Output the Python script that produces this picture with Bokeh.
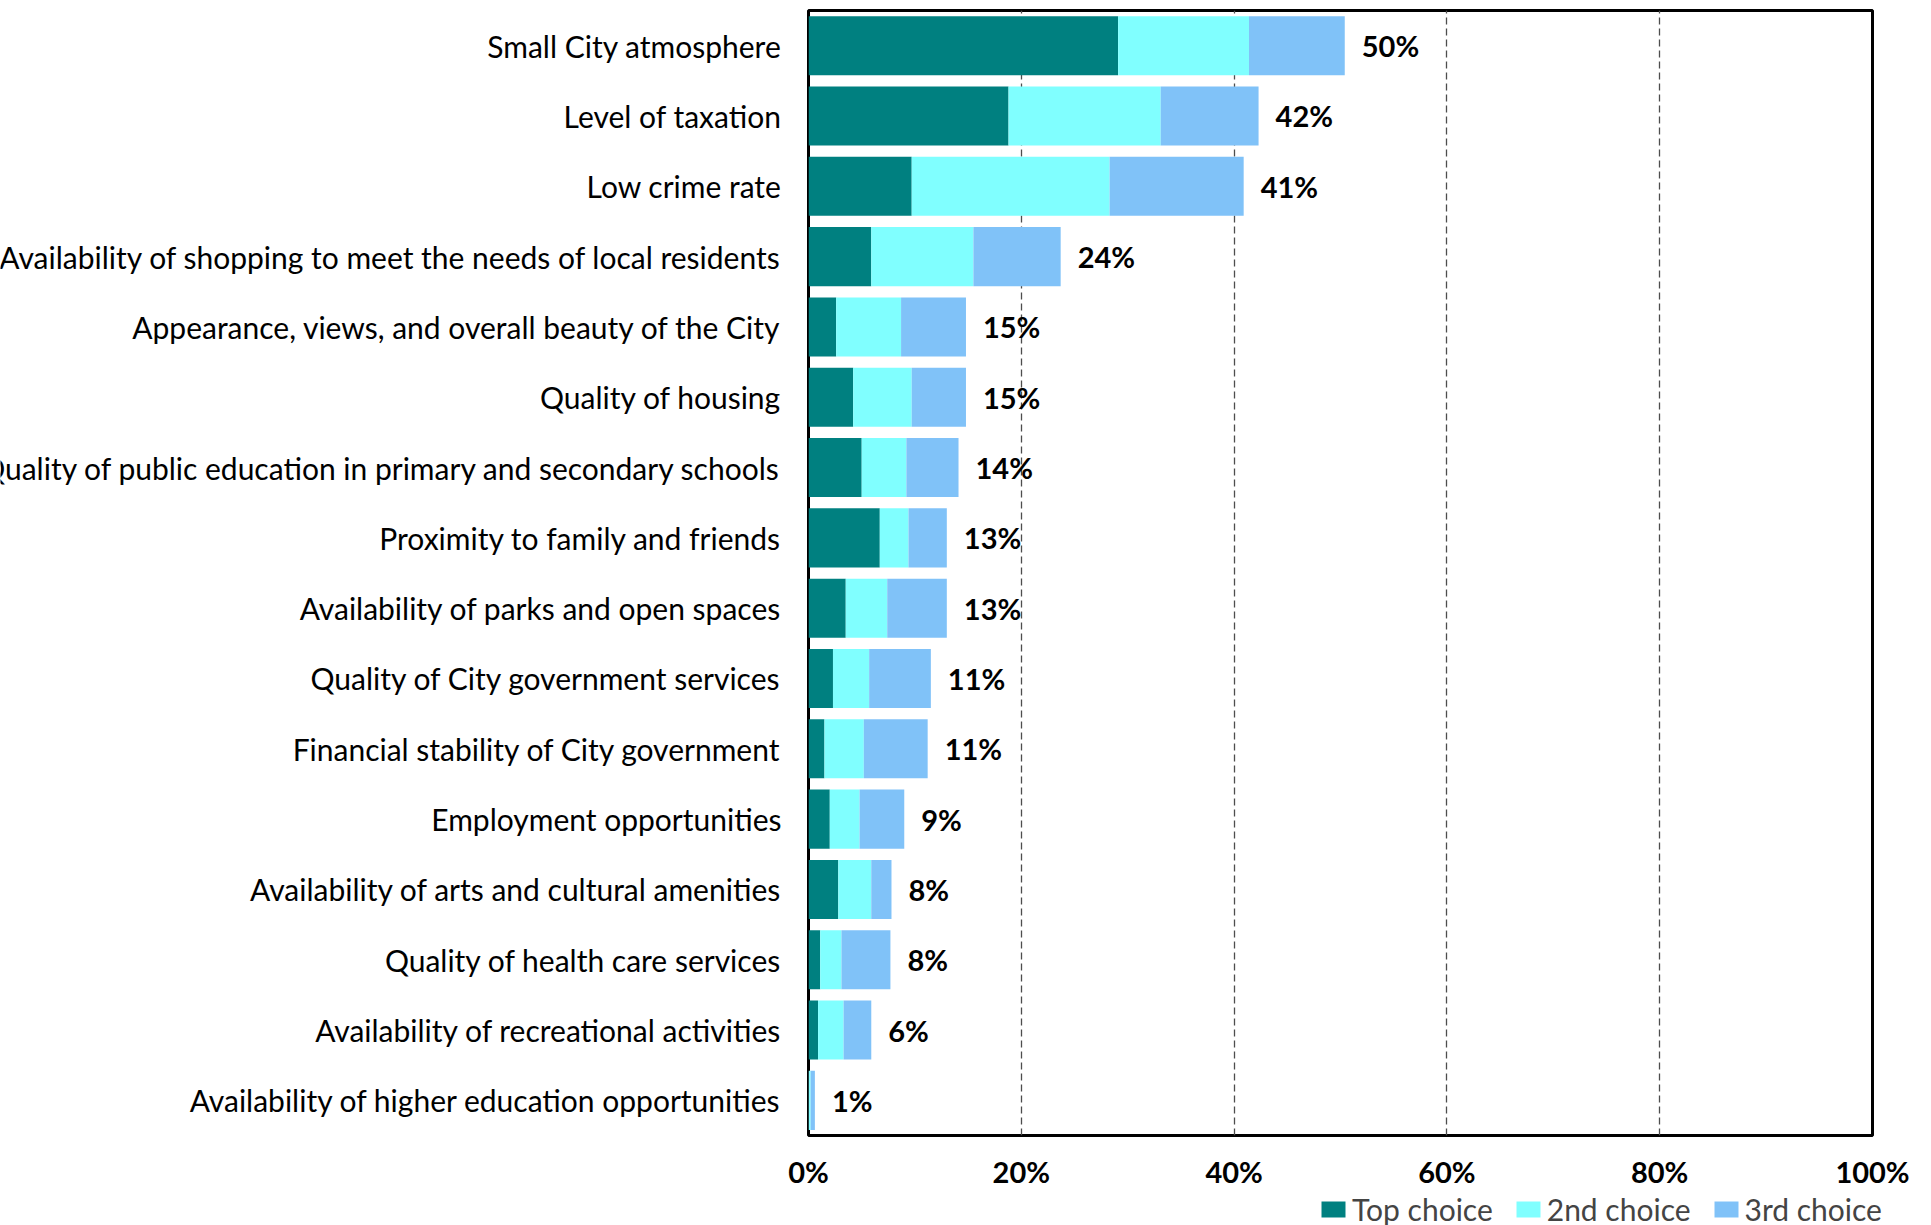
from bokeh.plotting import figure
from bokeh.layouts import row, column
from bokeh.models import (ColumnDataSource, Range1d, FactorRange, Legend, LegendItem,
                          FixedTicker, PrintfTickFormatter, LabelSet)
from bokeh.core.properties import value
from bokeh.embed import file_html
from bokeh.resources import INLINE

categories = [
    "Small City atmosphere",
    "Level of taxation",
    "Low crime rate",
    "Availability of shopping to meet the needs of local residents",
    "Appearance, views, and overall beauty of the City",
    "Quality of housing",
    "Quality of public education in primary and secondary schools",
    "Proximity to family and friends",
    "Availability of parks and open spaces",
    "Quality of City government services",
    "Financial stability of City government",
    "Employment opportunities",
    "Availability of arts and cultural amenities",
    "Quality of health care services",
    "Availability of recreational activities",
    "Availability of higher education opportunities",
]
top_choice = [29.1, 18.8, 9.7, 5.9, 2.6, 4.2, 5.0, 6.7, 3.5, 2.3, 1.5, 2.0, 2.8, 1.1, 0.9, 0.0]
second_choice = [12.3, 14.3, 18.6, 9.6, 6.1, 5.5, 4.2, 2.7, 3.9, 3.4, 3.7, 2.8, 3.1, 2.0, 2.4, 0.2]
third_choice = [9.0, 9.2, 12.6, 8.2, 6.1, 5.1, 4.9, 3.6, 5.6, 5.8, 6.0, 4.2, 1.9, 4.6, 2.6, 0.4]
total_labels = ["50%", "42%", "41%", "24%", "15%", "15%", "14%", "13%", "13%",
                "11%", "11%", "9%", "8%", "8%", "6%", "1%"]
series_names = ["Top choice", "2nd choice", "3rd choice"]
series_colors = ["#008080", "#80FFFF", "#80C2F8"]
x_ticks = [0, 20, 40, 60, 80, 100]
grid_ticks = [20, 40, 60, 80]

totals = [a + b + c for a, b, c in zip(top_choice, second_choice, third_choice)]
source = ColumnDataSource(dict(cat=categories, top=top_choice, second=second_choice,
                               third=third_choice, total=totals, label=total_labels,
                               one=[1] * len(categories)))

FONT = "Lato"
FRAME_H = 1125
y_range = FactorRange(*reversed(categories), range_padding=0)


def blank(fig):
    fig.axis.visible = False
    fig.grid.visible = False
    fig.outline_line_color = None
    fig.background_fill_color = "white"
    fig.border_fill_color = "white"


# ---- left figure: category labels ----
lab = figure(frame_width=784, frame_height=FRAME_H, y_range=y_range, x_range=Range1d(0, 1),
             output_backend="svg", toolbar_location=None,
             min_border_left=0, min_border_right=0, min_border_top=10, min_border_bottom=0)
blank(lab)
lab.text(x="one", y="cat", text="cat", source=source, x_offset=-3,
         text_align="right", text_baseline="middle",
         text_font=value(FONT), text_font_size="30px", text_color="black")

# ---- main figure ----
p = figure(frame_width=1064, frame_height=FRAME_H, y_range=y_range, x_range=Range1d(0, 100),
           output_backend="svg", toolbar_location=None,
           min_border_left=24, min_border_right=55, min_border_top=10, min_border_bottom=0)
p.background_fill_color = "white"
p.border_fill_color = "white"
p.outline_line_color = "black"
p.outline_line_width = 3

renderers = p.hbar_stack(["top", "second", "third"], y="cat", height=0.84,
                         color=series_colors, line_color=None, source=source)

p.xgrid.ticker = FixedTicker(ticks=grid_ticks)
p.xgrid.grid_line_color = "#4d4d4d"
p.xgrid.grid_line_dash = "7 4"
p.xgrid.grid_line_width = 1.3
p.ygrid.grid_line_color = None

p.xaxis.ticker = FixedTicker(ticks=x_ticks)
p.xaxis.formatter = PrintfTickFormatter(format="%d%%")
p.xaxis.axis_line_color = None
p.xaxis.major_tick_line_color = None
p.xaxis.minor_tick_line_color = None
p.xaxis.major_tick_out = 0
p.xaxis.major_tick_in = 0
p.xaxis.major_label_standoff = 18
p.xaxis.major_label_text_font = FONT
p.xaxis.major_label_text_font_style = "bold"
p.xaxis.major_label_text_font_size = "29px"
p.xaxis.major_label_text_color = "black"
p.yaxis.visible = False

tot_labels = LabelSet(x="total", y="cat", text="label", source=source, x_offset=17,
                      text_align="left", text_baseline="middle",
                      text_font=value(FONT), text_font_style="bold",
                      text_font_size="29px", text_color="black")
p.add_layout(tot_labels)

# ---- legend strip (placeholder renderers hold only the legend colours) ----
leg = figure(frame_width=1114, frame_height=36, x_range=Range1d(0, 1), y_range=Range1d(0, 1),
             output_backend="svg", toolbar_location=None,
             min_border_left=24, min_border_right=5, min_border_top=0, min_border_bottom=0)
blank(leg)
nan = float("nan")
swatches = [leg.hbar(y=[nan], right=[nan], height=0.5, fill_color=c, line_color=None)
            for c in series_colors]
legend = Legend(items=[LegendItem(label=n, renderers=[r]) for n, r in zip(series_names, swatches)],
                orientation="horizontal", location=(510, 0),
                padding=0, margin=0, spacing=20, label_standoff=4,
                glyph_width=30, glyph_height=20, label_height=20,
                border_line_color=None, background_fill_alpha=0,
                label_text_font=FONT, label_text_font_size="30px")
leg.add_layout(legend)

layout = row(lab, column(p, leg, spacing=0), spacing=0)
open("out.html", "w").write(file_html(layout, INLINE))
